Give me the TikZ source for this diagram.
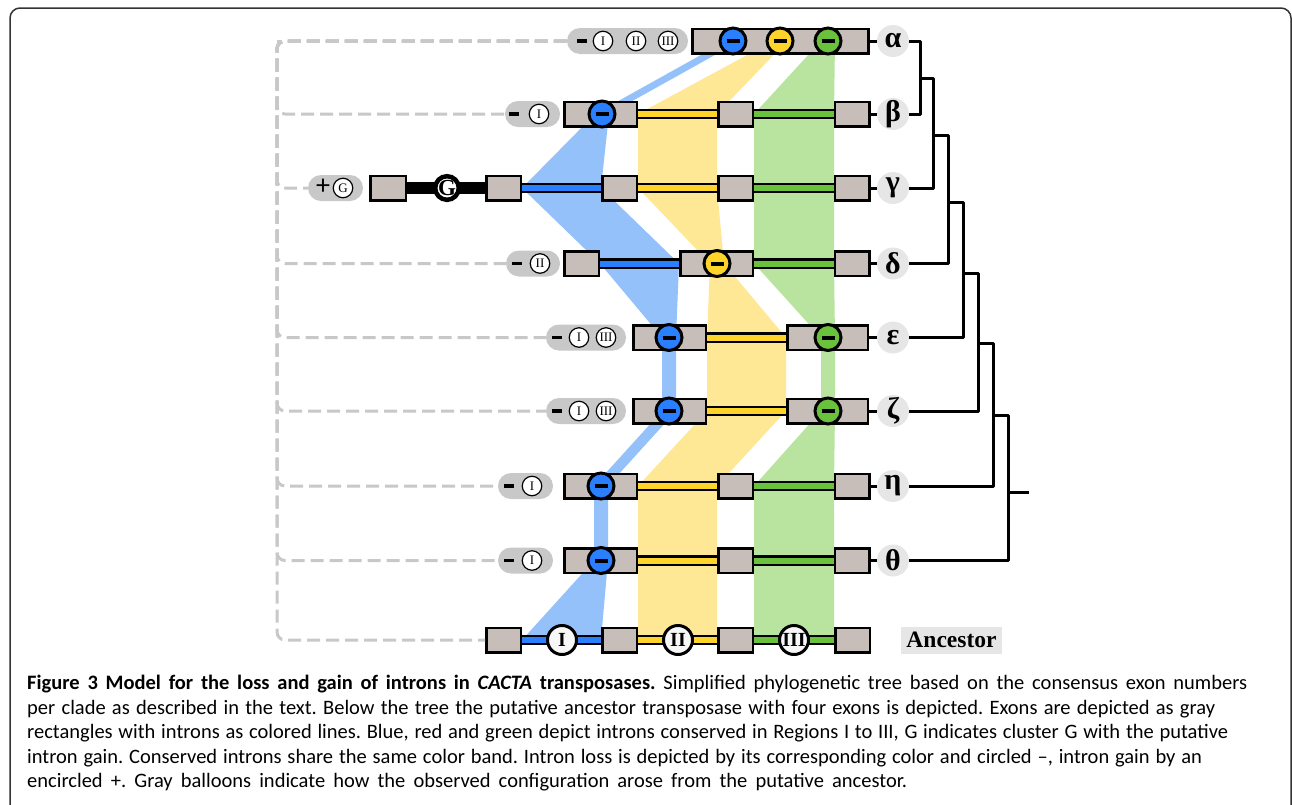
\documentclass[tikz,border=0pt]{standalone}
\usepackage{fontspec}
\setmainfont{Liberation Serif}
\newfontfamily\capfont{Carlito}
\usetikzlibrary{backgrounds}
\definecolor{exongray}{RGB}{199,190,185}
\definecolor{introblue}{RGB}{42,127,255}
\definecolor{introyellow}{RGB}{255,212,42}
\definecolor{introgreen}{RGB}{106,193,60}
\definecolor{bandblue}{RGB}{148,193,250}
\definecolor{bandyellow}{RGB}{254,232,150}
\definecolor{bandgreen}{RGB}{185,228,160}
\definecolor{balloongray}{RGB}{200,200,200}
\definecolor{labelgray}{RGB}{230,230,230}
\newcommand{\lossbar}{\rule[-2pt]{13pt}{4pt}}
\newcommand{\balloonbar}{\rule[-1.75pt]{10pt}{3.5pt}}
\frenchspacing

\begin{document}
\begin{tikzpicture}[
    x=1pt, y=-1pt,
    exon/.style={draw, line width=2.5pt, fill=exongray, minimum width=#1, minimum height=24.5pt, inner sep=0pt},
    exon/.default=34.5pt,
    intron/.style={line width=2.2pt, double=#1, double distance=6pt},
    loss/.style={circle, draw, line width=3pt, fill=#1, minimum size=26pt, inner sep=0pt},
    region/.style={circle, draw, line width=3pt, fill=black!3, minimum size=29pt, inner sep=0pt, font=\fontsize{20}{20}\selectfont\bfseries},
    balloon/.style={fill=balloongray, rounded corners=13pt, minimum width=#1, minimum height=26pt, inner sep=0pt},
    tag/.style={circle, draw, line width=1.2pt, fill=white, minimum size=19.5pt, inner sep=0pt, font=\fontsize{13}{13}\selectfont},
    sign/.style={inner sep=0pt},
    history/.style={draw=balloongray, line width=3pt, dash pattern=on 13pt off 6pt, rounded corners=8pt},
    clade/.style={circle, fill=labelgray, minimum size=32pt, inner sep=0pt, font=\fontsize{30}{30}\selectfont\bfseries},
    branch/.style={line width=3pt, line join=round},
    caption/.style={anchor=base west, inner sep=0pt, font=\capfont\fontsize{20.5}{24}\selectfont}
]
    \useasboundingbox (0,0) rectangle (1292,804);
    \draw[line width=1.5pt, black!80, rounded corners=10pt] (10,810) -- (10,8) -- (1291,8) -- (1291,810);

    % Exons per clade
    \node[exon=176pt] (a1) at (780.5,41) {};

    \node[exon=72.5pt] (b1) at (600.5,114) {};
    \node[exon] (b2) at (735.5,114) {};
    \node[exon] (b3) at (852,114) {};

    \node[exon=35.5pt] (c0) at (388,188) {};
    \node[exon] (c1) at (503.5,188) {};
    \node[exon] (c2) at (619.5,188) {};
    \node[exon] (c3) at (735.5,188) {};
    \node[exon] (c4) at (852,188) {};

    \node[exon] (d1) at (581.5,263.5) {};
    \node[exon=72.5pt] (d2) at (716.5,263.5) {};
    \node[exon] (d3) at (852,263.5) {};

    \node[exon=72.5pt] (e1) at (669.5,337.5) {};
    \node[exon=80.5pt] (e2) at (827.5,337.5) {};

    \node[exon=72.5pt] (f1) at (669.5,411) {};
    \node[exon=80.5pt] (f2) at (827.5,411) {};

    \node[exon=72.5pt] (g1) at (600.5,486) {};
    \node[exon] (g2) at (735.5,486) {};
    \node[exon] (g3) at (852,486) {};

    \node[exon=72.5pt] (h1) at (600.5,560.5) {};
    \node[exon] (h2) at (735.5,560.5) {};
    \node[exon] (h3) at (852,560.5) {};

    \node[exon] (anc1) at (503.5,640) {};
    \node[exon] (anc2) at (619.5,640) {};
    \node[exon] (anc3) at (735.5,640) {};
    \node[exon] (anc4) at (852.5,640) {};

    % Bands and introns
    \begin{scope}[on background layer]
        \fill[bandblue] (726,41) -- (595,114) -- (522,188) -- (600,263.5) -- (662,337.5) -- (662,411) -- (594,486) -- (594,560.5) -- (522,640)
            -- (601,640) -- (608,560.5) -- (608,486) -- (676,411) -- (676,337.5) -- (679,263.5) -- (601,188) -- (609,114) -- (740,41) -- cycle;
        \fill[bandyellow] (773,41) -- (638,114) -- (638,188) -- (710,263.5) -- (707,337.5) -- (707,411) -- (638,486) -- (638,560.5) -- (638,640)
            -- (717,640) -- (717,560.5) -- (717,486) -- (786,411) -- (786,337.5) -- (724,263.5) -- (717,188) -- (717,114) -- (787,41) -- cycle;
        \fill[bandgreen] (821,41) -- (754,114) -- (754,188) -- (754,263.5) -- (821,337.5) -- (821,411) -- (754,486) -- (754,560.5) -- (754,640)
            -- (834,640) -- (834,560.5) -- (834,486) -- (835,411) -- (835,337.5) -- (834,263.5) -- (834,188) -- (834,114) -- (835,41) -- cycle;

        \draw[intron=introyellow] (b1.east) -- (b2.west);
        \draw[intron=introgreen] (b2.east) -- (b3.west);
        \draw[line width=12pt] (c0.east) -- (c1.west);
        \draw[intron=introblue] (c1.east) -- (c2.west);
        \draw[intron=introyellow] (c2.east) -- (c3.west);
        \draw[intron=introgreen] (c3.east) -- (c4.west);
        \draw[intron=introblue] (d1.east) -- (d2.west);
        \draw[intron=introgreen] (d2.east) -- (d3.west);
        \draw[intron=introyellow] (e1.east) -- (e2.west);
        \draw[intron=introyellow] (f1.east) -- (f2.west);
        \draw[intron=introyellow] (g1.east) -- (g2.west);
        \draw[intron=introgreen] (g2.east) -- (g3.west);
        \draw[intron=introyellow] (h1.east) -- (h2.west);
        \draw[intron=introgreen] (h2.east) -- (h3.west);
        \draw[intron=introblue] (anc1.east) -- (anc2.west);
        \draw[intron=introyellow] (anc2.east) -- (anc3.west);
        \draw[intron=introgreen] (anc3.east) -- (anc4.west);
    \end{scope}

    % Lost introns
    \node[loss=introblue] (aI) at (733,41) {\lossbar};
    \node[loss=introyellow] (aII) at (780,41) {\lossbar};
    \node[loss=introgreen] (aIII) at (828,41) {\lossbar};
    \node[loss=introblue] (bI) at (602,114) {\lossbar};
    \node[loss=introyellow] (dII) at (717,263.5) {\lossbar};
    \node[loss=introblue] (eI) at (669,337.5) {\lossbar};
    \node[loss=introgreen] (eIII) at (828,337.5) {\lossbar};
    \node[loss=introblue] (fI) at (669,411) {\lossbar};
    \node[loss=introgreen] (fIII) at (828,411) {\lossbar};
    \node[loss=introblue] (gI) at (601,486) {\lossbar};
    \node[loss=introblue] (hI) at (601,560.5) {\lossbar};

    % Ancestral introns and gained intron
    \node[region] (ancI) at (562,640) {I};
    \node[region] (ancII) at (678,640) {II};
    \node[region] (ancIII) at (794,640) {III};
    \node[circle, draw, line width=4.5pt, fill=white, minimum size=23pt, inner sep=0pt, font=\fontsize{23}{23}\selectfont\bfseries] (cG) at (447,188) {G};

    % Balloons
    \node[balloon=121pt] (ba) at (627.5,41) {};
    \node[balloon=55pt] (bb) at (532.5,114) {};
    \node[balloon=55pt] (bc) at (335.5,188) {};
    \node[balloon=54pt] (bd) at (533,263.5) {};
    \node[balloon=80pt] (be) at (586,337.5) {};
    \node[balloon=80pt] (bf) at (586,411) {};
    \node[balloon=55pt] (bg) at (525.5,486) {};
    \node[balloon=55pt] (bh) at (525.5,560.5) {};

    \node[sign] (ba-s) at (582,41) {\balloonbar};
    \node[tag] (ba-1) at (603,41) {I};
    \node[tag] (ba-2) at (636,41) {II};
    \node[tag] (ba-3) at (668,41) {III};
    \node[sign] (bb-s) at (514,114) {\balloonbar};
    \node[tag] (bb-1) at (539,114) {I};
    \node[sign, font=\capfont\fontsize{28}{28}\selectfont] (bc-s) at (323,187) {+};
    \node[tag] (bc-1) at (343,188) {G};
    \node[sign] (bd-s) at (517,263.5) {\balloonbar};
    \node[tag] (bd-1) at (540,263.5) {II};
    \node[sign] (be-s) at (557,337.5) {\balloonbar};
    \node[tag] (be-1) at (579,337.5) {I};
    \node[tag] (be-3) at (606,337.5) {III};
    \node[sign] (bf-s) at (557,411) {\balloonbar};
    \node[tag] (bf-1) at (579,411) {I};
    \node[tag] (bf-3) at (606,411) {III};
    \node[sign] (bg-s) at (509,486) {\balloonbar};
    \node[tag] (bg-1) at (532,486) {I};
    \node[sign] (bh-s) at (509,560.5) {\balloonbar};
    \node[tag] (bh-1) at (532,560.5) {I};

    % Dashed history lines
    \coordinate (trunk) at (277,41);
    \draw[history] (ba.west) -- (trunk);
    \foreach \b in {bb,bc,bd,be,bf,bg,bh,anc1}
        \draw[history] (ba.west) -- (trunk) |- (\b.west);

    % Clade labels
    \node[clade] (la) at (893,41) {α};
    \node[clade] (lb) at (893,114) {β};
    \node[clade] (lc) at (893,188) {γ};
    \node[clade] (ld) at (893,263.5) {δ};
    \node[clade] (le) at (893,337.5) {ε};
    \node[clade] (lf) at (893,411) {ζ};
    \node[clade] (lg) at (893,486) {η};
    \node[clade] (lh) at (893,560.5) {θ};
    \node[fill=labelgray, minimum width=101pt, minimum height=27pt, inner sep=0pt, font=\fontsize{23.5}{23.5}\selectfont\bfseries] (lanc) at (951.5,640) {Ancestor};

    \draw[branch] (a1.east) -- (la.west);
    \draw[branch] (b3.east) -- (lb.west);
    \draw[branch] (c4.east) -- (lc.west);
    \draw[branch] (d3.east) -- (ld.west);
    \draw[branch] (e2.east) -- (le.west);
    \draw[branch] (f2.east) -- (lf.west);
    \draw[branch] (g3.east) -- (lg.west);
    \draw[branch] (h3.east) -- (lh.west);

    % Tree
    \coordinate (t1) at (920,78);
    \coordinate (t2) at (933,135);
    \coordinate (t3) at (948,202);
    \coordinate (t4) at (963,273);
    \coordinate (t5) at (978,343);
    \coordinate (t6) at (993,415);
    \coordinate (t7) at (1008,492);
    \coordinate (root) at (1029,492);
    \draw[branch] (la.east) -| (t1) |- (lb.east);
    \draw[branch] (t1) -| (t2) |- (lc.east);
    \draw[branch] (t2) -| (t3) |- (ld.east);
    \draw[branch] (t3) -| (t4) |- (le.east);
    \draw[branch] (t4) -| (t5) |- (lf.east);
    \draw[branch] (t5) -| (t6) |- (lg.east);
    \draw[branch] (t6) -| (t7) |- (lh.east);
    \draw[branch] (t7) -- (root);

    % Caption
    \node[caption] (cap1) at (27,689) {\makebox[1220pt][s]{\textbf{Figure 3 Model for the loss and gain of introns in \textit{CACTA} transposases.} Simplified phylogenetic tree based on the consensus exon numbers}};
    \node[caption] (cap2) at (27,714) {\makebox[1188pt][s]{per clade as described in the text. Below the tree the putative ancestor transposase with four exons is depicted. Exons are depicted as gray}};
    \node[caption] (cap3) at (27,738) {\makebox[1201pt][s]{rectangles with introns as colored lines. Blue, red and green depict introns conserved in Regions I to III, G indicates cluster G with the putative}};
    \node[caption] (cap4) at (27,763) {\makebox[1175pt][s]{intron gain. Conserved introns share the same color band. Intron loss is depicted by its corresponding color and circled –, intron gain by an}};
    \node[caption] (cap5) at (27,787) {\makebox[880pt][s]{encircled +. Gray balloons indicate how the observed configuration arose from the putative ancestor.}};
\end{tikzpicture}
\end{document}
